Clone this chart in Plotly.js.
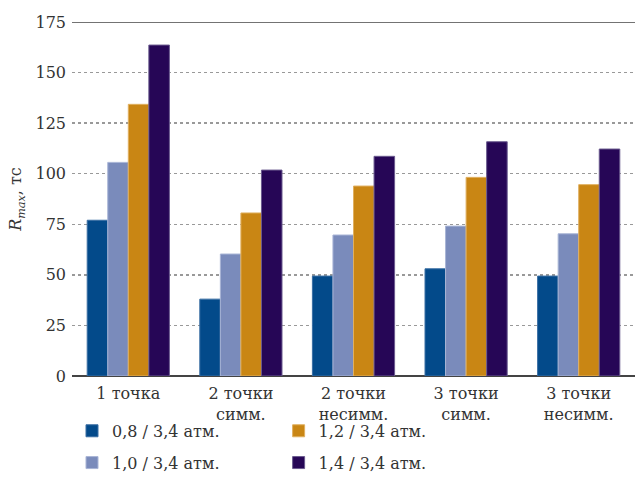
<!DOCTYPE html>
<html><head><meta charset="utf-8">
<script src="https://cdn.plot.ly/plotly-3.0.1.min.js"></script>
<style>html,body{margin:0;padding:0;background:#fff}#c{width:635px;height:501px}</style>
</head><body><div id="c"></div>
<script>
const categories = ["1 точка", "2 точки<br>симм.", "2 точки<br>несимм.", "3 точки<br>симм.", "3 точки<br>несимм."];
const seriesNames = ["0,8 / 3,4 атм.", "1,0 / 3,4 атм.", "1,2 / 3,4 атм.", "1,4 / 3,4 атм."];
const s08 = [77, 38, 49.4, 53, 49.4];
const s10 = [105.6, 60.3, 69.7, 74.1, 70.3];
const s12 = [134.3, 80.6, 93.9, 98.2, 94.6];
const s14 = [163.6, 101.8, 108.6, 115.8, 112.2];
const yTicks = [0, 25, 50, 75, 100, 125, 150, 175];

const colors = ["#034a8a", "#7a8bbb", "#c98614", "#260656"];
const lines = ["#3a6ea3", "#a9b5d6", "#e0b060", "#6a5a8e"];
const legendIds = ["legend", "legend", "legend2", "legend2"];
const data = [s08, s10, s12, s14].map((v, i) => ({
  type: "bar", x: categories, y: v, name: seriesNames[i],
  marker: {color: colors[i], line: {color: lines[i], width: 1}},
  legend: legendIds[i], legendgroup: "g" + i, hoverinfo: "skip"
}));
const font = "DejaVu Serif";
const lf = {family: font, size: 16, color: "#333"};
const legendCommon = {orientation: "v", y: -0.107, yanchor: "top", xanchor: "left",
  font: lf, traceorder: "grouped", tracegroupgap: 8, itemwidth: 30, bgcolor: "rgba(0,0,0,0)"};
const layout = {
  width: 635, height: 501,
  margin: {l: 72, r: 0, t: 22, b: 125},
  paper_bgcolor: "#fff", plot_bgcolor: "#fff",
  font: {family: font, size: 16, color: "#333"},
  barmode: "group", bargap: 0.27, bargroupgap: 0,
  showlegend: true,
  legend: Object.assign({}, legendCommon, {x: 0.0}),
  legend2: Object.assign({}, legendCommon, {x: 0.367}),
  xaxis: {type: "category", range: [-0.5, 4.5], showgrid: false, ticks: "", ticklen: 0, automargin: false,
    ticklabelstandoff: 6,
    showline: false, zeroline: false, tickfont: {family: font, size: 16, color: "#333"}},
  yaxis: {range: [0, 175], tickvals: yTicks, ticktext: yTicks.map(String), automargin: false,
    showgrid: true, gridcolor: "#999", griddash: "dot", gridwidth: 1.3,
    zeroline: true, zerolinecolor: "#444", zerolinewidth: 1.5,
    ticks: "", ticklabelstandoff: 5, tickfont: {family: font, size: 16, color: "#333"},
    title: {text: "<i>R</i><sub><i>max</i></sub>, тс", font: {family: font, size: 16, color: "#333"}, standoff: 9}},
  shapes: [{type: "line", xref: "paper", yref: "y", x0: 0, x1: 1, y0: 175, y1: 175,
    line: {color: "#444", width: 1.5}}]
};
Plotly.newPlot("c", data, layout, {displayModeBar: false, staticPlot: true});
</script></body></html>
